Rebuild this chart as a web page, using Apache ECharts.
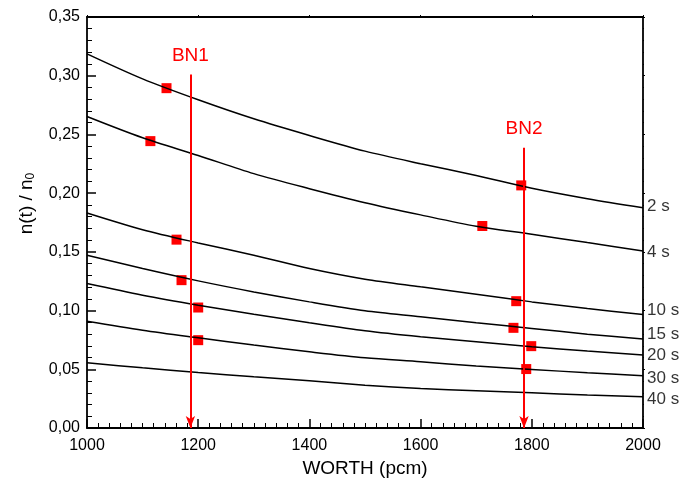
<!DOCTYPE html>
<html>
<head>
<meta charset="utf-8">
<title>n(t)/n0 vs WORTH</title>
<script src="https://cdn.jsdelivr.net/npm/echarts@6/dist/echarts.min.js"></script>
<style>
    html, body { margin: 0; padding: 0; background: #fff; }
    #chart { width: 681px; height: 488px; }
</style>
</head>
<body>
<div id="chart"></div>
<script>
    var worth = [1000, 1100, 1200, 1300, 1400, 1500, 1600, 1700, 1800, 1900, 2000];

    // n(t)/n0 curves, one per delay time
    var curveNames = ['2 s', '4 s', '10 s', '15 s', '20 s', '30 s', '40 s'];
    var c2s  = [0.3186, 0.2973, 0.2795, 0.2633, 0.2491, 0.2358, 0.2251, 0.2151, 0.2042, 0.1953, 0.1876];
    var c4s  = [0.2653, 0.2472, 0.2321, 0.2166, 0.2038, 0.1919, 0.1815, 0.1718, 0.1650, 0.1579, 0.1508];
    var c10s = [0.1831, 0.1689, 0.1576, 0.1471, 0.1358, 0.1267, 0.1202, 0.1139, 0.1074, 0.1017, 0.0967];
    var c15s = [0.1471, 0.1358, 0.1253, 0.1159, 0.1074, 0.0998, 0.0947, 0.0896, 0.0848, 0.0799, 0.0757];
    var c20s = [0.1230, 0.1131, 0.1046, 0.0969, 0.0896, 0.0828, 0.0777, 0.0734, 0.0692, 0.0655, 0.0621];
    var c30s = [0.0910, 0.0833, 0.0768, 0.0706, 0.0649, 0.0598, 0.0564, 0.0527, 0.0499, 0.0470, 0.0445];
    var c40s = [0.0555, 0.0513, 0.0473, 0.0436, 0.0402, 0.0365, 0.0337, 0.0317, 0.0300, 0.0281, 0.0266];
    var curves = [c2s, c4s, c10s, c15s, c20s, c30s, c40s];

    // measured points (red squares)
    var measuredX = [1143, 1114, 1161, 1170, 1200, 1200, 1781, 1711, 1772, 1767, 1799, 1790];
    var measuredY = [0.2894, 0.2443, 0.1604, 0.1259, 0.1026, 0.0748, 0.2066, 0.1720, 0.1080, 0.0853, 0.0697, 0.0502];

    // control rod positions (arrows)
    var rodNames = ['BN1', 'BN2'];
    var rodWorth = [1186, 1786];
    var rodTop = [0.301, 0.2387];

    // axis ranges: min, max, step
    var xTicks = [1000, 2000, 200];
    var yTicks = [0, 0.35, 0.05];

    // small vertical nudges for the curve labels
    var labelShift = [-1, 1, -4, -5, 0, 3, 3];

    var FONT = 'Liberation Sans, Arial, sans-serif';

    var chart = echarts.init(document.getElementById('chart'));

    var series = [];
    curves.forEach(function (vals) {
        series.push({
            type: 'line',
            smooth: 0.3,
            showSymbol: false,
            silent: true,
            lineStyle: { color: '#000', width: 1.5 },
            data: worth.map(function (w, k) { return [w, vals[k]]; })
        });
    });

    // curve names at the right end of each curve
    series.push({
        type: 'scatter',
        silent: true,
        symbolSize: 0,
        data: curves.map(function (vals, i) {
            return {
                value: [worth[worth.length - 1], vals[vals.length - 1]],
                label: { offset: [0, labelShift[i]] }
            };
        }),
        label: {
            show: true,
            position: 'right',
            distance: 4,
            color: '#000',
            fontFamily: FONT,
            fontSize: 17,
            formatter: function (p) { return curveNames[p.dataIndex]; }
        }
    });

    series.push({
        type: 'scatter',
        symbol: 'rect',
        symbolSize: 10,
        itemStyle: { color: '#ff0000', opacity: 1 },
        data: measuredX.map(function (x, k) { return [x, measuredY[k]]; }),
        markLine: {
            silent: true,
            animation: false,
            symbol: ['none', 'arrow'],
            symbolSize: [7, 12],
            lineStyle: { color: '#ff0000', width: 2, type: 'solid', opacity: 1 },
            label: {
                show: true,
                position: 'start',
                distance: 9,
                color: '#ff0000',
                fontFamily: FONT,
                fontSize: 19,
                formatter: '{b}'
            },
            data: rodNames.map(function (n, k) {
                return [
                    { name: n, coord: [rodWorth[k], rodTop[k]] },
                    { coord: [rodWorth[k], 0] }
                ];
            })
        }
    });

    // main axes (bottom/left) with labels and inward ticks
    function mainAxis(range, minorSplit) {
        return {
            type: 'value',
            min: range[0], max: range[1], interval: range[2],
            axisLine: { show: true, onZero: false, lineStyle: { color: '#000', width: 1.8 } },
            axisTick: { show: true, inside: true, length: 9, lineStyle: { color: '#000', width: 1.5 } },
            minorTick: { show: true, splitNumber: minorSplit, length: 5, lineStyle: { color: '#000', width: 1 } },
            splitLine: { show: false },
            minorSplitLine: { show: false }
        };
    }
    // mirror axes (top/right): frame with tiny ticks
    function frameAxis(range, minorSplit, pos) {
        return {
            type: 'value', position: pos,
            min: range[0], max: range[1], interval: range[2],
            axisLine: { show: true, onZero: false, lineStyle: { color: '#000', width: 1.8 } },
            axisTick: { show: true, inside: false, length: 2, lineStyle: { color: '#000', width: 1 } },
            minorTick: { show: true, splitNumber: minorSplit, length: 1, lineStyle: { color: '#000', width: 1 } },
            axisLabel: { show: false },
            splitLine: { show: false },
            minorSplitLine: { show: false }
        };
    }

    var xMain = mainAxis(xTicks, 10);
    xMain.name = 'WORTH (pcm)';
    xMain.nameLocation = 'middle';
    xMain.nameGap = 28;
    xMain.nameTextStyle = { color: '#000', fontFamily: FONT, fontSize: 19 };
    xMain.axisLabel = {
        color: '#000', fontFamily: FONT, fontSize: 16, margin: 10,
        formatter: function (v) { return String(v); }
    };

    var yMain = mainAxis(yTicks, 5);
    yMain.name = 'n(t) / n{sub|0}';
    yMain.nameLocation = 'middle';
    yMain.nameRotate = 90;
    yMain.nameGap = 50;
    yMain.nameTextStyle = {
        color: '#000', fontFamily: FONT, fontSize: 19,
        padding: [0, 0, 0, 38],
        rich: { sub: { fontSize: 12, fontFamily: FONT, color: '#000', padding: [9, 0, 0, 0] } }
    };
    yMain.axisLabel = {
        color: '#000', fontFamily: FONT, fontSize: 16, margin: 7,
        formatter: function (v) { return v.toFixed(2).replace('.', ','); }
    };

    chart.setOption({
        animation: false,
        backgroundColor: '#fff',
        grid: { left: 87, right: 38, top: 17, bottom: 60 },
        xAxis: [xMain, frameAxis(xTicks, 10, 'top')],
        yAxis: [yMain, frameAxis(yTicks, 5, 'right')],
        series: series
    });
</script>
</body>
</html>
